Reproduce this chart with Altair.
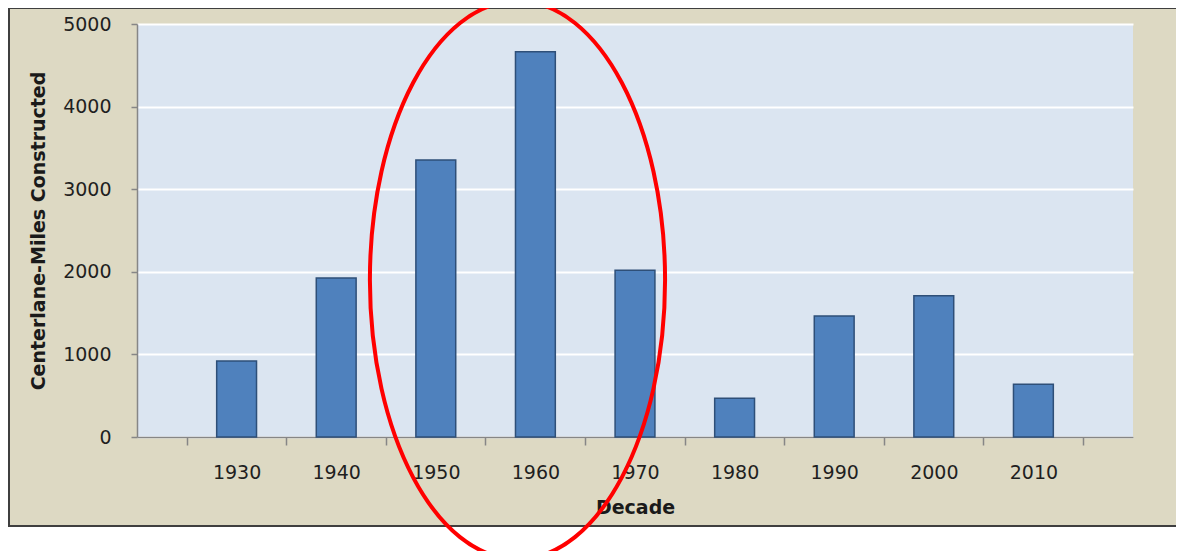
import altair as alt
import pandas as pd

decades = ["1930", "1940", "1950", "1960", "1970", "1980", "1990", "2000", "2010"]
miles = [920, 1925, 3355, 4665, 2020, 470, 1465, 1710, 640]
y_ticks = [0, 1000, 2000, 3000, 4000, 5000]

# annotation ellipse (centre in data terms)
ellipse_decade = ["1960"]
ellipse_y = [1900]

df = pd.DataFrame({"decade": decades, "miles": miles})
ell = pd.DataFrame({"decade": ellipse_decade, "miles": ellipse_y})

W, H = 996, 413
PL, PT, PR, PB = 129, 16, 43, 114

x_enc = alt.X(
    "decade:N",
    sort=decades,
    scale=alt.Scale(paddingInner=0.6, paddingOuter=0.8),
    axis=alt.Axis(
        title="Decade",
        labelAngle=0,
        grid=False,
        bandPosition=2.5,
        tickOffset=-30,
        labelOffset=30,
        tickExtra=True,
        tickSize=8,
        labelPadding=18,
        titlePadding=16,
    ),
)
y_enc = alt.Y(
    "miles:Q",
    scale=alt.Scale(domain=[0, 5000], nice=False),
    axis=alt.Axis(
        title="Centerlane-Miles Constructed",
        values=y_ticks,
        format="d",
        grid=True,
        gridColor="#FFFFFF",
        gridWidth=2,
        tickSize=6,
        labelPadding=20,
        titlePadding=14,
    ),
)

base = alt.Chart(df)

white_strip = base.mark_rect(fill="white", stroke=None).encode(
    x=alt.value(-PL), x2=alt.value(W + PR), y=alt.value(502), y2=alt.value(H + PB)
).transform_filter("datum.decade == '1930'")

frame = base.mark_rect(fillOpacity=0, stroke="#3F3F3F", strokeWidth=2).encode(
    x=alt.value(-PL + 1), x2=alt.value(W + PR + 30), y=alt.value(-16), y2=alt.value(502)
).transform_filter("datum.decade == '1930'")

bars = base.mark_bar(color="#4F81BD", stroke="#2E4F78", strokeWidth=1.5).encode(
    x=x_enc, y=y_enc
)

ellipse_path = (
    "M 0 -1 C 0.2921 -1 0.529 -0.5523 0.529 0 "
    "C 0.529 0.5523 0.2921 1 0 1 "
    "C -0.2921 1 -0.529 0.5523 -0.529 0 "
    "C -0.529 -0.5523 -0.2921 -1 0 -1 Z"
)
ellipse = alt.Chart(ell).mark_point(
    shape=ellipse_path, size=558 * 558, filled=False, stroke="#FF0000",
    strokeWidth=4, opacity=1,
).encode(
    x=alt.X("decade:N", sort=decades),
    xOffset=alt.value(2),
    y=alt.Y("miles:Q"),
)

chart = (
    alt.layer(white_strip, frame, bars, ellipse)
    .properties(
        width=W, height=H,
        autosize=alt.AutoSizeParams(type="none"),
        padding={"left": PL, "top": PT, "right": PR, "bottom": PB},
        background="#DDD9C3",
    )
    .configure_view(fill="#DBE5F1", stroke=None)
    .configure_axis(
        domainColor="#868686",
        tickColor="#868686",
        domainWidth=1.5,
        tickWidth=1.5,
        labelFont="DejaVu Sans",
        labelFontSize=19,
        labelColor="#1F1F1F",
        titleFont="DejaVu Sans",
        titleFontSize=19,
        titleFontWeight="bold",
        titleColor="#1a1a1a",
    )
)

chart.save("out.html", embed_options={"renderer": "svg", "actions": False})
